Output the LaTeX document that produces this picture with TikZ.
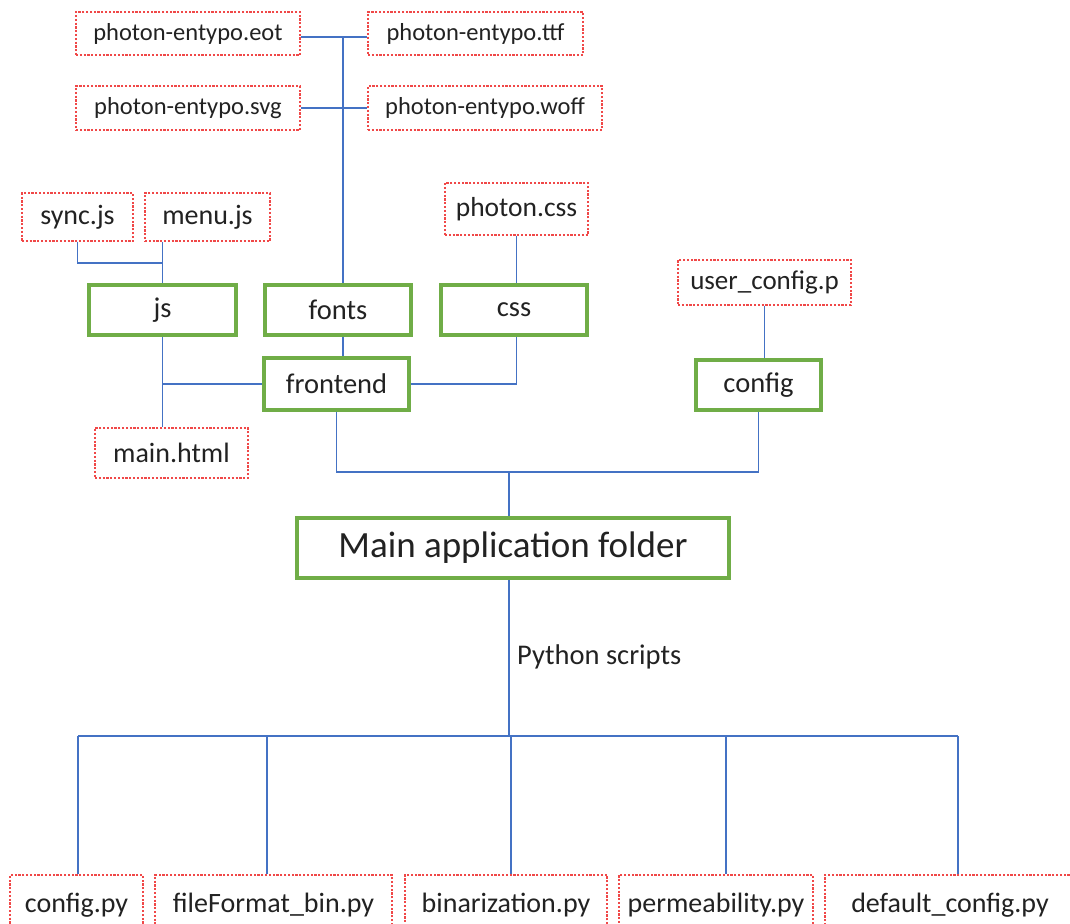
\documentclass[tikz,border=0pt]{standalone}
\usepackage{fontspec}
\setmainfont{Carlito}
\definecolor{lblue}{HTML}{4472C4}
\definecolor{lgreen}{HTML}{70AD47}
\definecolor{lred}{HTML}{F04848}
\definecolor{txt}{HTML}{222222}
\tikzset{
  redbox/.style={draw=lred, line width=1.3pt, dash pattern=on 2.2pt off 1.6pt, inner sep=0pt, text=txt, font=\fontsize{28}{30}\selectfont},
  smallred/.style={redbox, font=\fontsize{24.5}{26}\selectfont},
  greenbox/.style={draw=lgreen, line width=3.2pt, inner sep=0pt, text=txt, font=\fontsize{28.5}{30}\selectfont},
  link/.style={draw=lblue, line width=1.8pt},
}
\begin{document}
\begin{tikzpicture}[x=1pt,y=-1pt]
\useasboundingbox (0,0) rectangle (1070,923);
\clip (0,0) rectangle (1070,923);
\fill[white] (0,0) rectangle (1070,923);
% font files
\node[smallred, minimum width=224pt, minimum height=43pt] (eot) at (188,33.5) {photon-entypo.eot};
\node[smallred, minimum width=215pt, minimum height=43pt] (ttf) at (475.5,33.5) {photon-entypo.ttf};
\node[smallred, minimum width=224pt, minimum height=44pt] (svg) at (188,108) {photon-entypo.svg};
\node[smallred, minimum width=234pt, minimum height=44pt] (woff) at (485,108) {photon-entypo.woff};
% js files
\node[redbox, minimum width=111pt, minimum height=48pt] (sync) at (77.5,217) {sync.js};
\node[redbox, minimum width=125pt, minimum height=48pt] (menu) at (207.5,217) {menu.js};
\node[redbox, minimum width=143pt, minimum height=52pt, font=\fontsize{27.5}{29}\selectfont] (pcss) at (516.5,209) {photon.css};
% folders
\node[greenbox, minimum width=147pt, minimum height=50pt] (js) at (162.5,310) {js};
\node[greenbox, minimum width=146pt, minimum height=50pt] (fonts) at (338,310) {fonts};
\node[greenbox, minimum width=146pt, minimum height=50pt] (css) at (514,310) {css};
\node[greenbox, minimum width=145pt, minimum height=52pt] (frontend) at (336.5,384) {frontend};
\node[redbox, minimum width=153pt, minimum height=50pt] (mainhtml) at (171.5,453) {main.html};
\node[redbox, minimum width=173pt, minimum height=45pt, font=\fontsize{27}{29}\selectfont] (ucfg) at (764.5,282.5) {user\_config.p};
\node[greenbox, minimum width=125pt, minimum height=50pt] (config) at (758.5,385) {config};
\node[greenbox, minimum width=432pt, minimum height=60pt, font=\fontsize{37}{40}\selectfont] (main) at (513,548) {Main application folder};
% python scripts
\node[redbox, minimum width=133pt, minimum height=60pt] (cfgpy) at (76.5,905) {config.py};
\node[redbox, minimum width=237pt, minimum height=60pt] (ffpy) at (273.5,905) {fileFormat\_bin.py};
\node[redbox, minimum width=202pt, minimum height=60pt] (binpy) at (506,905) {binarization.py};
\node[redbox, minimum width=194pt, minimum height=60pt] (permpy) at (716,905) {permeability.py};
\node[redbox, minimum width=250pt, minimum height=60pt] (defpy) at (950,905) {default\_config.py};
\node[anchor=west, text=txt, font=\fontsize{28.5}{30}\selectfont, inner sep=0pt] (pylabel) at (517,657) {Python scripts};
% coordinates
\coordinate (fx) at (343,37);
\coordinate (fy) at (343,108);
\coordinate (jsj) at (162.5,263);
\coordinate (top) at (509,472);
\coordinate (bus) at (509,736);
\coordinate (b1) at (78,736);
\coordinate (b2) at (267,736);
\coordinate (b3) at (511,736);
\coordinate (b4) at (726,736);
\coordinate (b5) at (958,736);
% connectors
\draw[link] (eot.east |- fx) -- (fx) -- (ttf.west |- fx);
\draw[link] (svg.east) -- (woff.west);
\draw[link] (fx) -- (fx |- fonts.north);
\draw[link] (sync.south) |- (jsj);
\draw[link] (js.north) -- (js.north |- menu.south);
\draw[link] (pcss.south) -- (pcss.south |- css.north);
\draw[link] (fonts.south -| fx) -- (fx |- frontend.north);
\draw[link] (js.south) -- (js.south |- mainhtml.north);
\draw[link] (js.south |- frontend.west) -- (frontend.west);
\draw[link] (frontend.east) -| (pcss.south |- css.south);
\draw[link] (ucfg.south) -- (ucfg.south |- config.north);
\draw[link] (frontend.south) |- (top) -| (config.south);
\draw[link] (top) -- (main.north -| top);
\draw[link] (main.south -| bus) -- (bus);
\draw[link] (b1) -- (b5);
\draw[link] (b1) -- (b1 |- cfgpy.north);
\draw[link] (b2) -- (b2 |- ffpy.north);
\draw[link] (b3) -- (b3 |- binpy.north);
\draw[link] (b4) -- (b4 |- permpy.north);
\draw[link] (b5) -- (b5 |- defpy.north);
\end{tikzpicture}
\end{document}
